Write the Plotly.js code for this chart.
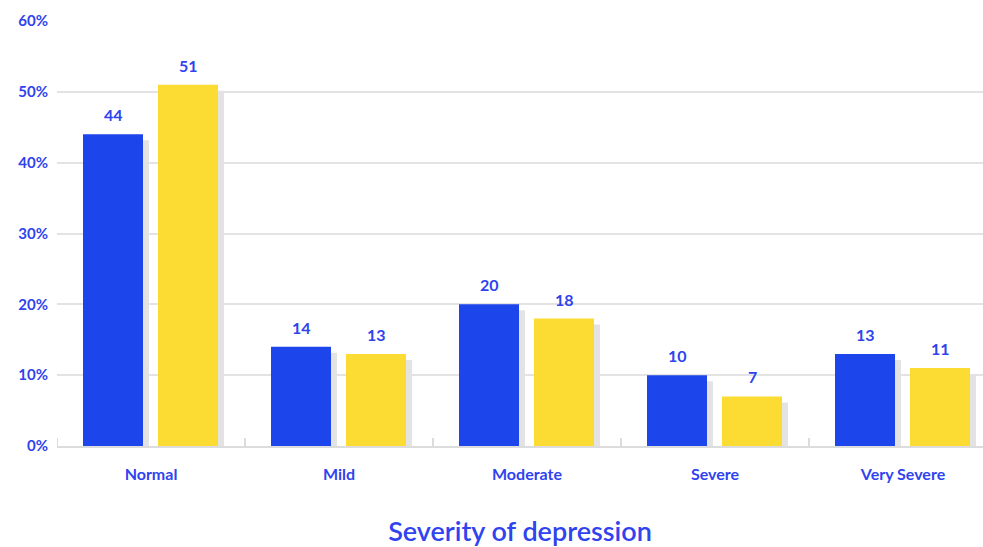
<!DOCTYPE html>
<html>
<head>
<meta charset="utf-8">
<script src="https://cdn.plot.ly/plotly-3.0.1.min.js"></script>
<style>html,body{margin:0;padding:0;background:#fff;}#chart{width:983px;height:547px;}</style>
</head>
<body>
<div id="chart"></div>
<script>
const categories = ["Normal", "Mild", "Moderate", "Severe", "Very Severe"];
const seriesA = [44, 14, 20, 10, 13];   // blue
const seriesB = [51, 13, 18, 7, 11];    // yellow
const yTickVals = [0, 10, 20, 30, 40, 50, 60];
const yTickText = ["0%", "10%", "20%", "30%", "40%", "50%", "60%"];
const xTitle = "Severity of depression";

const BLUE = "#1c45eb", YELLOW = "#fcdc32", SHADOW = "#e3e3e3", TEXT = "#2f43ee";
const catPx = 188;            // pixels per category
const barW = 60 / catPx;
const offA = -68 / catPx, offB = 7 / catPx;
const shX = 6 / catPx;        // shadow shift (category units)
const shY = 6 * 60 / 425;     // shadow drop (value units)
const idx = categories.map((c, i) => i);

function shadow(vals, off) {
  return {type: "bar", x: idx, y: vals.map(v => Math.max(v - shY, 0)), offset: off + shX, width: barW,
          marker: {color: SHADOW, line: {width: 0}}, hoverinfo: "skip", showlegend: false};
}
function bars(vals, off, color) {
  return {type: "bar", x: idx, y: vals, offset: off, width: barW,
          marker: {color: color, line: {width: 0}}, showlegend: false};
}
const data = [shadow(seriesA, offA), shadow(seriesB, offB), bars(seriesA, offA, BLUE), bars(seriesB, offB, YELLOW)];

const annotations = [];
[[seriesA, offA], [seriesB, offB]].forEach(([vals, off]) => {
  vals.forEach((v, i) => annotations.push({
    x: i + off + barW / 2, y: v, xref: "x", yref: "y", text: String(v), showarrow: false,
    yanchor: "bottom", yshift: 8, font: {family: "Lato, sans-serif", size: 16, color: TEXT, weight: 700}
  }));
});

const layout = {
  width: 983, height: 547,
  margin: {l: 57, r: 0, t: 21, b: 101},
  paper_bgcolor: "#fff", plot_bgcolor: "#fff",
  barmode: "overlay",
  showlegend: false,
  font: {family: "Lato, sans-serif", color: TEXT},
  xaxis: {
    type: "linear", range: [-0.5, 4.5 - 14 / catPx],
    tickvals: idx, ticktext: categories,
    showgrid: false, zeroline: false,
    showline: true, linecolor: "#dcdcdc", linewidth: 2,
    ticks: "", ticklabelstandoff: 13,
    tickfont: {family: "Lato, sans-serif", size: 16, color: TEXT, weight: 700},
    title: {text: xTitle, standoff: 42, font: {family: "Lato, sans-serif", size: 27, color: TEXT, weight: 600}}
  },
  yaxis: {
    range: [0, 60], tickvals: yTickVals, ticktext: yTickText,
    showgrid: true, gridcolor: "#e3e3e3", gridwidth: 2,
    zeroline: false, showline: false, ticks: "", ticklabelstandoff: 8,
    tickfont: {family: "Lato, sans-serif", size: 15, color: TEXT, weight: 700}
  },
  annotations: annotations
};
// tick marks between categories drawn as short vertical lines
layout.shapes = [-0.5, 0.5, 1.5, 2.5, 3.5].map(b => ({
  type: "line", xref: "x", yref: "paper", x0: b, x1: b, y0: 0, y1: 8 / 425, layer: "above",
  line: {color: "#dcdcdc", width: 2}
}));

Plotly.newPlot("chart", data, layout, {displayModeBar: false, staticPlot: true});
</script>
</body>
</html>
